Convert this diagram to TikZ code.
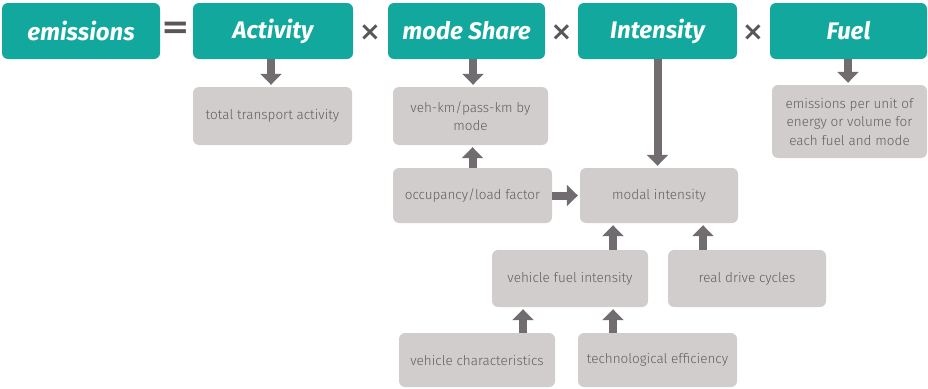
\documentclass[tikz,border=0pt]{standalone}
\usepackage{fontspec}
\setmainfont{Fira Sans}
\newfontfamily\lightf{Fira Sans Light}
\newfontfamily\opf{DejaVu Sans}
\usetikzlibrary{arrows.meta,calc}
\definecolor{teal}{HTML}{12A89E}
\definecolor{boxgray}{HTML}{D2CDCD}
\definecolor{arrgray}{HTML}{716C6F}
\definecolor{txtgray}{HTML}{625F61}
\definecolor{opgray}{HTML}{5A5658}
\tikzset{
  head/.style={fill=teal, rounded corners=6pt, text=white, minimum height=56pt, inner sep=0pt,
    font=\fontsize{24}{26}\selectfont\bfseries\itshape},
  sub/.style={fill=boxgray, rounded corners=6pt, text=txtgray, inner sep=0pt, align=center,
    font=\lightf\fontsize{13.5}{18.5}\selectfont},
  op/.style={text=opgray, font=\opf\bfseries\fontsize{26}{28}\selectfont, inner sep=0pt},
  arr/.style={draw=arrgray, line width=8pt, -{Triangle[width=21pt,length=11pt]}, shorten >=2pt}
}
\begin{document}
\begin{tikzpicture}[x=1pt,y=-1pt]
\useasboundingbox (0,0) rectangle (928,388);
% header boxes
\node[head, minimum width=158pt] (em) at (81,31) {emissions};
\node[op, font=\opf\bfseries\fontsize{34}{36}\selectfont] (eq) at (175.5,30) {=};
\node[head, minimum width=160pt] (act) at (273,31) {Activity};
\node[op] (x1) at (370,33) {×};
\node[head, minimum width=157pt] (ms) at (466.5,31) {mode Share};
\node[op] (x2) at (561.5,33) {×};
\node[head, minimum width=159pt] (int) at (657.5,31) {Intensity};
\node[op] (x3) at (753,33) {×};
\node[head, minimum width=157pt] (fuel) at (848.5,31) {Fuel};
% gray boxes
\node[sub, minimum width=159pt, minimum height=58pt] (tot) at (272.5,116) {total transport activity};
\node[sub, minimum width=155pt, minimum height=58pt] (veh) at (470.5,116) {veh-km/pass-km by\\mode};
\node[sub, minimum width=155pt, minimum height=73pt] (epu) at (849.5,121.5) {emissions per unit of\\energy or volume for\\each fuel and mode};
\node[sub, minimum width=159pt, minimum height=55pt] (occ) at (472.5,195.5) {occupancy/load factor};
\node[sub, minimum width=158pt, minimum height=55pt] (modal) at (659,195.5) {modal intensity};
\node[sub, minimum width=156pt, minimum height=57pt] (vfi) at (570,278.5) {vehicle fuel intensity};
\node[sub, minimum width=158pt, minimum height=57pt] (rdc) at (747,278.5) {real drive cycles};
\node[sub, minimum width=156pt, minimum height=54pt] (vc) at (477,360) {vehicle characteristics};
\node[sub, minimum width=159pt, minimum height=54pt] (te) at (657.5,360) {technological efficiency};
% arrows
\draw[arr] ($(act.south)+(-2,0)$) -- ($(tot.north)+(-1.5,0)$);
\draw[arr] ($(ms.south)+(6.5,0)$) -- ($(veh.north)+(2.5,0)$);
\draw[arr] (int.south) -- (modal.north -| int.south);
\draw[arr] ($(fuel.south)+(-0.5,0)$) -- ($(epu.north)+(-1.5,0)$);
\draw[arr] (occ.north) -- (veh.south -| occ.north);
\draw[arr] (occ.east) -- (modal.west);
\draw[arr] ($(vfi.north)+(43,0)$) -- ($(modal.south)+(-46,0)$);
\draw[arr] ($(rdc.north)+(-44,0)$) -- ($(modal.south)+(44,0)$);
\draw[arr] ($(vc.north)+(46,0)$) -- ($(vfi.south)+(-47,0)$);
\draw[arr] ($(te.north)+(-44.5,0)$) -- ($(vfi.south)+(43,0)$);
\end{tikzpicture}
\end{document}
